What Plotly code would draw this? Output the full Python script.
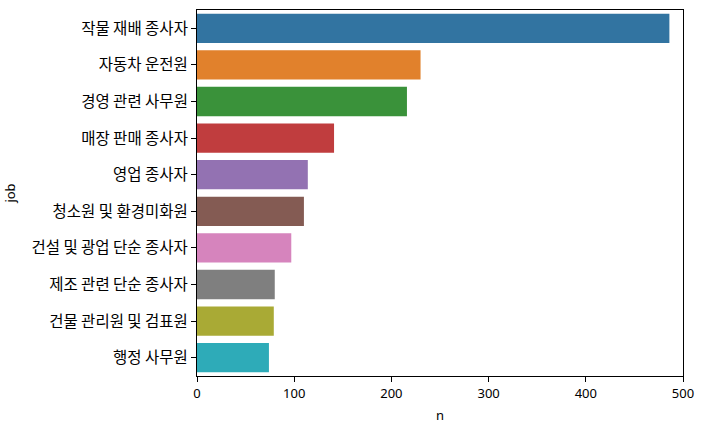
import plotly.graph_objects as go

jobs = [
    "작물 재배 종사자",
    "자동차 운전원",
    "경영 관련 사무원",
    "매장 판매 종사자",
    "영업 종사자",
    "청소원 및 환경미화원",
    "건설 및 광업 단순 종사자",
    "제조 관련 단순 종사자",
    "건물 관리원 및 검표원",
    "행정 사무원",
]
counts = [486, 230, 216, 141, 114, 110, 97, 80, 79, 74]
colors = ["#3274a1", "#e1812c", "#3a923a", "#c03d3e", "#9372b2",
          "#845b53", "#d684bd", "#7f7f7f", "#a9aa35", "#2eabb8"]
x_ticks = [0, 100, 200, 300, 400, 500]

font = "Malgun Gothic, Noto Sans CJK KR, sans-serif"

fig = go.Figure(go.Bar(
    x=counts, y=jobs, orientation="h",
    marker=dict(color=colors, line=dict(width=0)),
    width=0.8,
))

fig.update_layout(
    width=713, height=430,
    margin=dict(l=197, r=30, t=9, b=51),
    plot_bgcolor="white", paper_bgcolor="white",
    font=dict(family=font, size=13, color="black"),
    showlegend=False,
    bargap=0.2,
)
fig.update_xaxes(
    range=[0, 500], tickvals=x_ticks, ticks="outside", ticklen=5,
    tickcolor="black", tickwidth=1, showgrid=False, zeroline=False,
    showline=True, linecolor="black", linewidth=1, mirror=True,
    tickfont=dict(size=13, family="Noto Sans, sans-serif"),
    title=dict(text="n", standoff=10, font=dict(size=13, family="Noto Sans, sans-serif")),
)
fig.update_yaxes(
    categoryorder="array", categoryarray=jobs, autorange="reversed",
    ticks="outside", ticklen=5, tickcolor="black", tickwidth=1,
    showgrid=False, showline=True, linecolor="black", linewidth=1,
    mirror=True, tickfont=dict(size=15.5),
    title=dict(text="job", standoff=12, font=dict(size=13, family="Noto Sans, sans-serif")),
)

fig.write_html("out.html")
